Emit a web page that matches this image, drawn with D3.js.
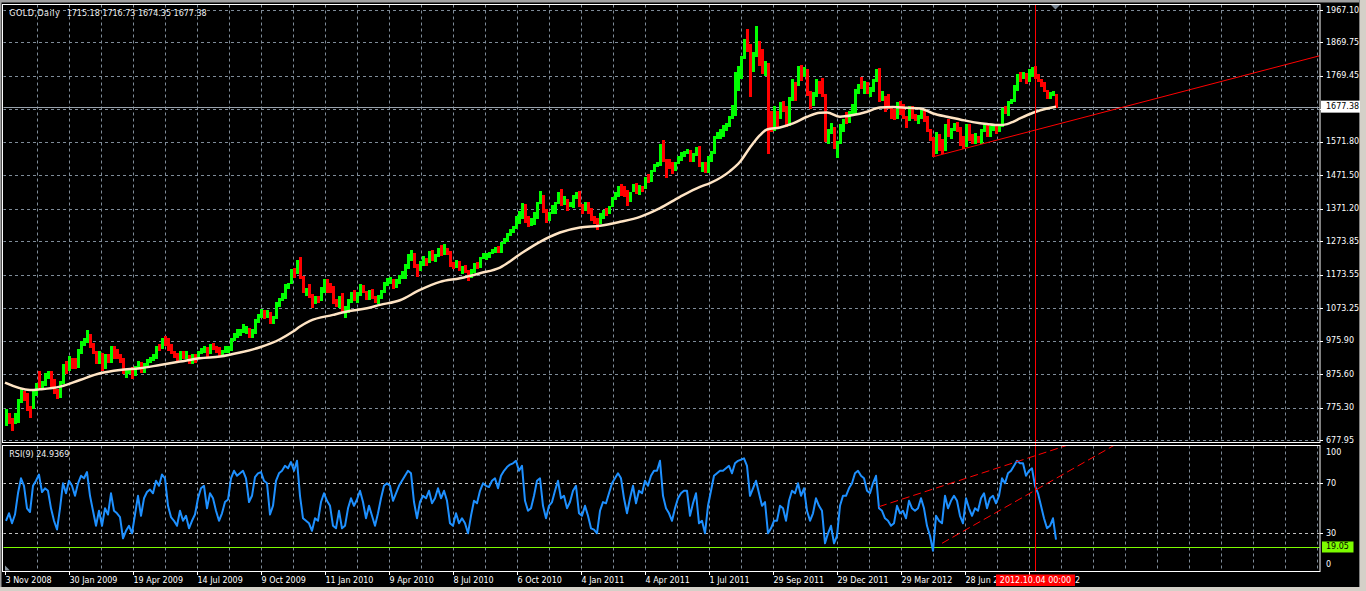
<!DOCTYPE html>
<html><head><meta charset="utf-8">
<script src="https://cdn.jsdelivr.net/npm/d3@7"></script>
<style>
html,body{margin:0;padding:0;background:#000;overflow:hidden;}
svg{display:block;}
text{font-family:"DejaVu Sans",sans-serif;font-size:8px;}
</style></head><body>
<svg id="c" width="1366" height="591"></svg>
<script>
// ---------------- DATA ----------------
const symbolTitle = "GOLD,Daily";
const lastOHLC = [1715.18, 1716.73, 1674.35, 1677.38];
const DAYS_PER_BAR = 3;           // each stored bar = 3 trading days
const highs = [770,760,745,760,800,830,825,820,780,830,850,885,855,880,885,885,860,830,855,905,
915,930,925,925,950,975,985,1007,995,970,945,945,940,935,935,960,960,950,935,925,
890,895,898,900,915,912,910,920,928,935,960,965,985,990,985,965,945,940,945,945,
945,932,935,935,945,955,960,958,965,970,960,958,948,960,960,985,1000,1010,1012,1025,
1020,1015,1010,1042,1055,1070,1068,1068,1062,1050,1092,1105,1120,1145,1150,1192,1195,1218,1227,1170,
1135,1145,1115,1110,1110,1138,1160,1160,1148,1140,1102,1110,1120,1080,1100,1122,1128,1122,1145,1142,
1125,1128,1130,1110,1112,1128,1152,1165,1168,1162,1160,1172,1185,1205,1235,1249,1240,1205,1215,1230,
1225,1245,1248,1235,1255,1262,1266,1255,1245,1212,1218,1215,1200,1202,1188,1190,1208,1212,1228,1240,
1240,1242,1252,1258,1260,1272,1285,1298,1310,1320,1350,1365,1387,1385,1350,1345,1362,1392,1424,1412,
1370,1362,1382,1392,1420,1430,1408,1400,1392,1412,1422,1424,1385,1390,1392,1372,1350,1345,1358,1368,
1372,1380,1405,1420,1440,1445,1440,1428,1422,1445,1448,1442,1440,1465,1476,1488,1505,1510,1565,1577,
1520,1520,1512,1512,1530,1540,1545,1550,1548,1538,1555,1558,1512,1512,1530,1545,1588,1602,1610,1622,
1628,1650,1682,1780,1800,1830,1880,1911,1865,1840,1920,1875,1850,1815,1808,1665,1680,1665,1690,1695,
1680,1705,1760,1750,1800,1802,1795,1790,1725,1720,1760,1755,1762,1715,1610,1628,1615,1575,1625,1640,
1662,1665,1685,1730,1745,1765,1755,1750,1735,1760,1790,1792,1725,1710,1715,1680,1670,1692,1695,1685,
1650,1680,1680,1655,1652,1670,1668,1648,1610,1585,1600,1595,1580,1625,1640,1612,1628,1632,1615,1590,
1625,1625,1595,1598,1590,1610,1628,1625,1620,1625,1622,1625,1672,1680,1695,1700,1742,1775,1780,1780,
1778,1790,1796,1798,1775,1760,1752,1728,1720,1725,1716.73];
const lows = [720,725,705,725,730,790,795,765,745,770,810,835,830,840,860,835,815,802,805,845,
875,885,890,890,895,935,960,970,955,935,905,905,885,890,910,910,920,920,910,875,
865,875,862,870,890,880,880,900,908,915,920,945,950,960,945,935,925,915,918,922,
922,905,905,908,925,935,940,928,935,948,938,930,930,938,940,945,975,985,990,1000,
995,985,985,995,1030,1045,1040,1045,1025,1025,1040,1078,1095,1100,1130,1145,1165,1175,1160,1120,
1110,1105,1075,1085,1088,1095,1120,1120,1120,1085,1078,1075,1060,1044,1058,1088,1095,1088,1110,1118,
1098,1098,1100,1088,1085,1100,1120,1140,1145,1130,1135,1145,1160,1160,1190,1215,1195,1166,1185,1200,
1200,1210,1215,1212,1228,1230,1232,1232,1198,1190,1195,1185,1175,1180,1155,1165,1180,1192,1195,1220,
1218,1225,1235,1240,1240,1240,1265,1272,1290,1300,1310,1325,1340,1330,1316,1320,1322,1340,1385,1360,
1330,1335,1355,1355,1385,1380,1382,1365,1375,1372,1400,1375,1355,1365,1355,1335,1325,1309,1325,1340,
1350,1355,1375,1398,1405,1410,1405,1380,1390,1420,1415,1412,1420,1430,1448,1450,1480,1495,1500,1510,
1462,1490,1475,1485,1505,1515,1525,1535,1512,1512,1530,1495,1480,1478,1478,1510,1535,1580,1580,1585,
1605,1615,1640,1650,1725,1760,1820,1840,1705,1780,1825,1800,1775,1770,1535,1600,1605,1615,1640,1660,
1615,1618,1695,1695,1740,1755,1765,1710,1670,1680,1705,1715,1705,1570,1565,1595,1550,1523,1565,1600,
1625,1628,1650,1655,1715,1730,1715,1715,1705,1720,1750,1690,1695,1662,1670,1640,1638,1640,1652,1640,
1612,1635,1640,1635,1625,1640,1630,1600,1575,1527,1535,1545,1535,1545,1585,1580,1605,1600,1560,1550,
1555,1575,1565,1565,1568,1565,1600,1585,1585,1605,1595,1600,1615,1655,1650,1685,1690,1725,1750,1760,
1745,1750,1765,1760,1752,1735,1720,1700,1700,1708,1674.35];
const closes = [755,740,730,740,795,820,815,775,770,820,845,840,848,872,880,842,820,808,850,898,
890,915,910,898,945,970,978,995,965,940,912,938,893,928,916,955,928,925,922,880,
884,888,868,893,910,886,905,915,922,925,955,952,980,978,952,940,933,922,938,926,
930,910,930,928,938,950,955,938,960,955,948,935,942,950,955,980,995,995,1005,1012,
1015,990,1000,1038,1050,1062,1058,1060,1030,1042,1085,1100,1108,1140,1145,1188,1180,1212,1165,1125,
1125,1110,1088,1105,1096,1135,1152,1143,1138,1092,1086,1105,1065,1072,1092,1112,1102,1118,1138,1122,
1105,1122,1105,1092,1106,1125,1148,1155,1158,1140,1155,1168,1182,1198,1230,1235,1200,1190,1212,1220,
1215,1240,1222,1230,1250,1238,1250,1242,1208,1195,1212,1190,1195,1185,1168,1185,1204,1198,1225,1235,
1236,1236,1250,1255,1246,1268,1280,1294,1308,1318,1348,1355,1380,1336,1325,1326,1352,1388,1398,1366,
1338,1358,1364,1388,1418,1390,1396,1378,1386,1408,1418,1380,1370,1385,1368,1342,1340,1332,1352,1362,
1360,1375,1400,1410,1434,1432,1410,1398,1418,1440,1418,1438,1435,1460,1455,1485,1502,1505,1560,1515,
1508,1500,1488,1508,1525,1535,1540,1542,1516,1532,1550,1502,1508,1485,1515,1540,1585,1598,1600,1618,
1620,1645,1655,1760,1785,1825,1870,1862,1790,1830,1870,1845,1790,1805,1630,1625,1640,1638,1682,1675,
1622,1700,1745,1742,1792,1760,1780,1725,1695,1712,1745,1725,1710,1578,1596,1612,1555,1565,1618,1635,
1632,1660,1678,1725,1740,1738,1745,1722,1725,1755,1778,1700,1705,1700,1678,1658,1650,1688,1660,1648,
1640,1675,1650,1642,1645,1665,1635,1605,1582,1540,1590,1575,1562,1620,1592,1608,1625,1615,1585,1555,
1618,1588,1570,1582,1580,1605,1620,1592,1610,1620,1605,1620,1670,1665,1690,1695,1732,1770,1768,1775,
1752,1780,1792,1765,1758,1750,1725,1710,1710,1718,1677.38];
const rsiValues = [40,46,38,45,62,74,68,50,47,68,72,77,63,66,64,50,40,33,50,70,
62,72,68,60,70,76,74,79,60,48,36,48,36,50,45,62,48,46,43,26,
32,36,30,45,60,44,58,63,65,62,72,68,77,74,52,43,40,36,48,40,
44,34,40,45,58,66,68,50,62,58,48,40,46,55,57,74,80,76,78,80,
74,55,60,75,78,79,72,70,45,52,72,78,80,84,82,87,80,88,60,42,
40,38,32,42,40,55,62,56,52,36,34,48,34,36,50,58,52,57,64,55,
42,52,44,36,46,58,68,70,68,56,62,68,72,76,80,78,55,42,55,60,
58,64,54,58,66,58,64,56,38,36,46,38,42,38,30,44,56,54,64,70,
68,67,72,74,66,76,80,83,85,86,88,80,84,56,48,50,60,72,74,52,
42,52,55,64,72,58,60,50,55,64,68,46,44,52,44,34,33,30,48,55,
54,62,70,74,78,74,58,46,58,68,54,64,62,72,68,76,80,80,88,60,
50,46,40,50,58,62,64,64,44,54,62,38,40,30,52,64,76,78,80,80,
82,84,78,86,88,89,90,84,60,66,72,62,52,55,30,34,40,40,52,50,
40,56,64,62,70,60,66,48,40,46,58,52,48,22,30,36,22,28,52,60,
60,66,70,78,80,76,74,64,62,70,76,50,48,42,40,36,38,52,46,48,
42,56,50,48,50,58,50,36,28,16,44,40,38,60,50,56,60,56,44,38,
58,50,44,50,48,58,62,50,58,60,54,60,74,70,78,80,84,88,86,86,
76,80,82,68,62,52,42,34,36,42,24.94];
const rsiTitle = "RSI(9) 24.9369";
const maDays = [0,25,35,55,75,95,115,135,155,175,195,215,235,255,275,288,295,305,328,342,
362,375,395,415,435,455,475,495,515,535,555,575,595,615,635,655,675,695,705,725,
735,745,755,762,775,788,802,815,822,835,848,862,875,888,902,915,928,942,955,968,
982,995,1002,1008,1015,1028,1042,1051];
const maValues = [850,828,830,838,858,878,888,893,903,913,923,928,940,956,980,1003,1018,1035,1053,1063,
1073,1083,1097,1128,1152,1163,1178,1195,1235,1272,1300,1315,1320,1332,1347,1373,1407,1437,1448,1484,
1512,1555,1592,1609,1615,1627,1647,1659,1660,1647,1652,1662,1675,1676,1674,1672,1657,1647,1639,1631,
1625,1622,1625,1632,1642,1659,1672,1677];
const priceTicks = [677.95,775.30,875.60,975.90,1073.25,1173.55,1273.85,1371.20,1471.50,1571.80,1670.60,1769.45,1869.75,1967.10];
const dateLabels = ["3 Nov 2008","30 Jan 2009","19 Apr 2009","14 Jul 2009","9 Oct 2009","11 Jan 2010",
"9 Apr 2010","8 Jul 2010","6 Oct 2010","4 Jan 2011","4 Apr 2011","1 Jul 2011","29 Sep 2011",
"29 Dec 2011","29 Mar 2012","28 Jun 2012","26 Sep 2012"];
const DAYS_PER_LABEL = 64, DAYS_PER_GRID = 32, TOTAL_DAYS = 1315;
const rsiLevels = [70, 30];
const rsiAxisLabels = [100, 70, 30, 0];
const hLevel = 19.05;
const cursorDay = 1030, cursorText = "2012.10.04 00:00";
const trendMain = [[928,1527],[1145,1697]];
const trendRsiUpper = [[874,51.3],[1007,86]];
const trendRsiLower = [[937,22],[1020,59.8]];

// ---------------- LAYOUT ----------------
const svg = d3.select("#c");
const L = 3, R = 1320;
const mTop = 4.5, mBot = 442.5, rTop = 445.5, rBot = 571.5;
const GRID = "#7f8c99";
const x = d3.scaleLinear().domain([0, TOTAL_DAYS]).range([5, 1320]);
const y = d3.scaleLinear().domain([677.95, 1967.10]).range([440, 10]);
const yR = d3.scaleLinear().domain([0, 100]).range([570.8, 445.8]);
const px = v => Math.round(v) + 0.5;

svg.append("rect").attr("width",1366).attr("height",591).attr("fill","#000");
// window frame
svg.append("rect").attr("x",0).attr("y",0).attr("width",1366).attr("height",2.5).attr("fill","#a0a0a0");
svg.append("rect").attr("x",0).attr("y",0).attr("width",1.5).attr("height",591).attr("fill","#a0a0a0");
svg.append("rect").attr("x",1359.5).attr("y",0).attr("width",6.5).attr("height",591).attr("fill","#d4d0c8");
svg.append("line").attr("x1",1359.5).attr("x2",1359.5).attr("y1",0).attr("y2",591).attr("stroke","#808080");
svg.append("rect").attr("x",0).attr("y",587).attr("width",1366).attr("height",4).attr("fill","#d4d0c8");

const defs = svg.append("defs");
defs.append("clipPath").attr("id","clipMain").append("rect")
  .attr("x",L+0.5).attr("y",mTop+0.5).attr("width",R-L-1).attr("height",mBot-mTop-1);
defs.append("clipPath").attr("id","clipRsi").append("rect")
  .attr("x",L+0.5).attr("y",rTop+0.5).attr("width",R-L-1).attr("height",rBot-rTop-1);

const gridDays = d3.range(DAYS_PER_GRID, TOTAL_DAYS + 1, DAYS_PER_GRID);
const labelDays = dateLabels.map((d,i) => i * DAYS_PER_LABEL);
const barDay = i => i * DAYS_PER_BAR + 1;

// cursor label box geometry (used to clip date labels hidden under it)
const cx = px(x(cursorDay));
const boxX = 996, boxW = 79;
const cl = defs.append("clipPath").attr("id","clipDates");
cl.append("rect").attr("x",0).attr("y",560).attr("width",boxX).attr("height",31);
cl.append("rect").attr("x",boxX+boxW).attr("y",560).attr("width",1366-boxX-boxW).attr("height",31);

// ---------- MAIN PANEL ----------
const gM = svg.append("g").attr("clip-path","url(#clipMain)");
gM.selectAll("line.vg").data(gridDays).join("line").attr("class","vg")
  .attr("x1",d=>px(x(d))).attr("x2",d=>px(x(d))).attr("y1",mTop).attr("y2",mBot)
  .attr("stroke",GRID).attr("stroke-dasharray","3,3");
gM.selectAll("line.hg").data(priceTicks).join("line").attr("class","hg")
  .attr("x1",L).attr("x2",R).attr("y1",d=>px(y(d))).attr("y2",d=>px(y(d)))
  .attr("stroke",GRID).attr("stroke-dasharray","3,3");
// bid line
const lastClose = lastOHLC[3];
gM.append("line").attr("x1",L).attr("x2",R).attr("y1",px(y(lastClose))).attr("y2",px(y(lastClose)))
  .attr("stroke","#9aa3ad");
// bars
gM.selectAll("rect.bar").data(closes).join("rect").attr("class","bar")
  .attr("shape-rendering","crispEdges")
  .attr("x",(d,i)=>Math.round(x(barDay(i)))-1).attr("width",2.6)
  .attr("y",(d,i)=>y(highs[i]))
  .attr("height",(d,i)=>Math.max(1, y(lows[i]) - y(highs[i])))
  .attr("fill",(d,i)=> (i===0 || d >= closes[i-1]) ? "#00ff00" : "#ff0000");
// moving average
const maLine = d3.line().x(d=>x(d[0])).y(d=>y(d[1])).curve(d3.curveMonotoneX);
gM.append("path").datum(maDays.map((d,i)=>[d, maValues[i]]))
  .attr("d",maLine).attr("fill","none").attr("stroke","#ffe4c4").attr("stroke-width",2.5);
// trend line (ray)
function ray(p, toDay) {
  const s = (p[1][1]-p[0][1])/(p[1][0]-p[0][0]);
  return [[p[0][0], p[0][1]], [toDay, p[0][1] + s*(toDay - p[0][0])]];
}
const tm = ray(trendMain, TOTAL_DAYS);
gM.append("line").attr("x1",x(tm[0][0])).attr("y1",y(tm[0][1])).attr("x2",x(tm[1][0])).attr("y2",y(tm[1][1]))
  .attr("stroke","#ff0000").attr("stroke-width",1);

// ---------- RSI PANEL ----------
const gR = svg.append("g").attr("clip-path","url(#clipRsi)");
gR.selectAll("line.vg").data(gridDays).join("line").attr("class","vg")
  .attr("x1",d=>px(x(d))).attr("x2",d=>px(x(d))).attr("y1",rTop).attr("y2",rBot)
  .attr("stroke",GRID).attr("stroke-dasharray","3,3");
gR.selectAll("line.lv").data(rsiLevels).join("line").attr("class","lv")
  .attr("x1",L).attr("x2",R).attr("y1",d=>px(yR(d))).attr("y2",d=>px(yR(d)))
  .attr("stroke","#c0c0c0").attr("stroke-dasharray","3,3");
gR.append("line").attr("x1",L).attr("x2",R).attr("y1",px(yR(hLevel))).attr("y2",px(yR(hLevel)))
  .attr("stroke","#7cfc00");
const rsiLine = d3.line().x((d,i)=>x(barDay(i))).y(d=>yR(d));
gR.append("path").datum(rsiValues).attr("d",rsiLine).attr("fill","none")
  .attr("stroke","#1e90ff").attr("stroke-width",2).attr("stroke-linejoin","round");
[trendRsiUpper, trendRsiLower].forEach(t => {
  const r = ray(t, TOTAL_DAYS);
  gR.append("line").attr("x1",x(r[0][0])).attr("y1",yR(r[0][1])).attr("x2",x(r[1][0])).attr("y2",yR(r[1][1]))
    .attr("stroke","#ff0000").attr("stroke-width",1).attr("stroke-dasharray","8,4");
});
gR.append("path").attr("d",`M${x(0)},${rBot-6} L${x(0)},${rBot-1} L${x(0)+5},${rBot-1} Z`).attr("fill","#8a96a0");

// cursor line
svg.append("line").attr("x1",cx).attr("x2",cx).attr("y1",mTop).attr("y2",rBot)
  .attr("stroke","#ff0000");

// panel borders
svg.append("rect").attr("x",L-0.5).attr("y",mTop).attr("width",R-L+0.5).attr("height",mBot-mTop)
  .attr("fill","none").attr("stroke","#fff");
svg.append("rect").attr("x",L-0.5).attr("y",rTop).attr("width",R-L+0.5).attr("height",rBot-rTop)
  .attr("fill","none").attr("stroke","#fff");

// shift marker
svg.append("path").attr("d","M1051,5 L1060,5 L1055.5,9.5 Z").attr("fill","#7a8896");

// ---------- AXES / TEXT ----------
const bidY = y(lastClose);
svg.selectAll("line.pt").data(priceTicks).join("line").attr("class","pt")
  .attr("x1",R).attr("x2",R+3).attr("y1",d=>px(y(d))).attr("y2",d=>px(y(d))).attr("stroke","#fff");
svg.selectAll("text.pl").data(priceTicks.filter(v=>Math.abs(y(v)-bidY)>8)).join("text").attr("class","pl")
  .attr("x",1326).attr("y",d=>y(d)).attr("dominant-baseline","central").attr("fill","#fff")
  .text(d=>d.toFixed(2));
svg.append("rect").attr("x",1321).attr("y",bidY-6).attr("width",39).attr("height",12).attr("fill","#fff");
svg.append("text").attr("x",1326).attr("y",bidY).attr("dominant-baseline","central").attr("fill","#000")
  .text(lastClose.toFixed(2));

svg.selectAll("line.rt").data(rsiLevels).join("line").attr("class","rt")
  .attr("x1",R).attr("x2",R+3).attr("y1",d=>px(yR(d))).attr("y2",d=>px(yR(d))).attr("stroke","#fff");
svg.selectAll("text.rl").data(rsiAxisLabels).join("text").attr("class","rl")
  .attr("x",1326).attr("y",d=>Math.min(564.5, Math.max(452, yR(d))))
  .attr("dominant-baseline","central").attr("fill","#fff").text(d=>d);
svg.append("rect").attr("x",1322).attr("y",yR(hLevel)-5.5).attr("width",31.5).attr("height",11).attr("fill","#7cfc00");
svg.append("text").attr("x",1326).attr("y",yR(hLevel)).attr("dominant-baseline","central").attr("fill","#000")
  .text(hLevel.toFixed(2));

// date axis
svg.selectAll("line.dt").data(labelDays).join("line").attr("class","dt")
  .attr("x1",d=>px(x(d))).attr("x2",d=>px(x(d))).attr("y1",rBot).attr("y2",rBot+3.5).attr("stroke","#fff");
svg.append("g").attr("clip-path","url(#clipDates)")
  .selectAll("text.dl").data(dateLabels).join("text").attr("class","dl")
  .attr("x",(d,i)=>x(labelDays[i])+0.5).attr("y",580).attr("dominant-baseline","central")
  .attr("fill","#fff").text(d=>d);
// cursor label
svg.append("rect").attr("x",boxX).attr("y",574.5).attr("width",boxW).attr("height",11.5).attr("fill","#ff0000");
svg.append("text").attr("x",cx).attr("y",580.3).attr("text-anchor","middle").attr("dominant-baseline","central")
  .attr("fill","#fff").text(cursorText);

// titles
svg.append("text").attr("x",9.3).attr("y",13).attr("dominant-baseline","central").attr("fill","#f0f0f0")
  .attr("letter-spacing","0.5").text(symbolTitle);
svg.append("text").attr("x",66.7).attr("y",13).attr("dominant-baseline","central").attr("fill","#f0f0f0")
  .text(lastOHLC.map(v=>v.toFixed(2)).join(" "));
svg.append("text").attr("x",9.3).attr("y",454).attr("dominant-baseline","central").attr("fill","#f0f0f0")
  .text(rsiTitle);
</script>
</body></html>
